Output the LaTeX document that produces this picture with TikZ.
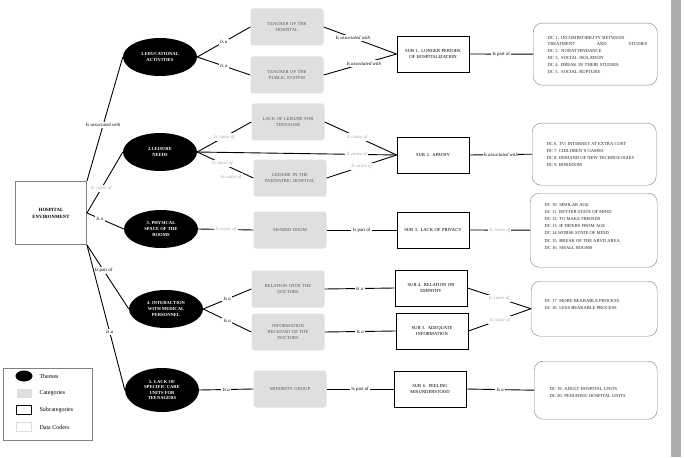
\documentclass[tikz,border=0pt]{standalone}
\usepackage{fontspec}
\setmainfont{Liberation Serif}
\usetikzlibrary{shapes.geometric}
\begin{document}
\begin{tikzpicture}[x=1pt,y=-1pt,
  every node/.style={font=\fontsize{4.6}{5.6}\selectfont},
  theme/.style={ellipse,fill=black,text=white,font=\fontsize{4.6}{5.6}\selectfont\bfseries,align=center,minimum width=74pt,minimum height=38pt,inner sep=0pt},
  cat/.style={rounded corners=3pt,fill=gray!25,text=gray!70!black,align=center,minimum width=73pt,minimum height=37pt,text width=62pt,inner sep=0pt},
  sub/.style={draw=black,line width=0.9pt,align=center,minimum width=72pt,minimum height=36pt,text width=70pt,inner sep=0pt},
  dc/.style={draw=gray,rounded corners=9pt,align=left,text width=112pt,inner sep=6pt,anchor=north west},
  edge/.style={line width=0.9pt},
  lb/.style={fill=white,inner sep=1.5pt,font=\fontsize{4.8}{5.8}\selectfont\itshape},
  lg/.style={lb,text=gray!70},
  lu/.style={fill=white,inner sep=1.5pt,font=\fontsize{4.8}{5.8}\selectfont}]
\useasboundingbox (0,0) rectangle (684,457);
\fill[gray!65] (671,0) rectangle (681,457);
% main
\node[draw=gray,line width=0.9pt,minimum width=71pt,minimum height=63pt,align=center,font=\fontsize{4.8}{7}\selectfont\bfseries] (he) at (51,213) {HOSPITAL\\ENVIRONMENT};
% themes
\node[theme] (t1) at (160,57) {1.EDUCATIONAL\\ACTIVITIES};
\node[theme] (t2) at (160,152) {2.LEISURE\\NEEDS};
\node[theme] (t3) at (161,229) {3. PHYSICAL\\SPACE OF THE\\ROOMS};
\node[theme] (t4) at (166,309) {4. INTERACTION\\WITH MEDICAL\\PERSONNEL};
\node[theme,minimum height=44pt] (t5) at (162,390) {5. LACK OF\\SPECIFIC CARE\\UNITS FOR\\TEENAGERS};
% categories
\node[cat] (c1) at (287,27) {TEACHER OF THE\\HOSPITAL};
\node[cat] (c2) at (287,75) {TEACHER OF THE\\PUBLIC SYSTEM};
\node[cat] (c3) at (288,122) {LACK OF LEISURE FOR\\TEENAGER};
\node[cat] (c4) at (290,178) {LEISURE IN THE\\PAEDIATRIC HOSPITAL};
\node[cat] (c5) at (290,230) {SHARED ROOM};
\node[cat] (c6) at (288,289) {RELATION WITH THE\\DOCTORS};
\node[cat] (c7) at (288,332) {INFORMATION\\RECEIVED OF THE\\DOCTORS};
\node[cat] (c8) at (290,389) {MINORITY GROUP};
% subcategories
\node[sub] (s1) at (433,54) {SUB 1. LONGER PERIODS\\OF HOSPITALIZATION};
\node[sub] (s2) at (433,155) {SUB 2. APATHY};
\node[sub] (s3) at (433,230) {SUB 3. LACK OF PRIVACY};
\node[sub] (s4) at (431,288) {SUB 4. RELATION OR\\EMPATHY};
\node[sub] (s5) at (432,331) {SUB 5. ADEQUATE\\INFORMATION};
\node[sub] (s6) at (430,389) {SUB 6. FEELING\\MISUNDERSTOOD};
% data coders
\node[dc,minimum height=62pt,text width=112pt] (d1) at (533,23) {};
\node[anchor=north west,align=left,text width=100pt,text=gray!30!black] at (544,33) {DC 1. INCOMPATIBILITY BETWEEN\\TREATMENT\hfill AND\hfill STUDIES\\[1.5pt]DC 2. NONATTENDANCE\\[1.5pt]DC 3. SOCIAL ISOLATION\\[1.5pt]DC 4. BREAK IN THEIR STUDIES\\[1.5pt]DC 5. SOCIAL RUPTURE};
\node[dc,minimum height=62pt] (d2) at (532,123) {};
\node[anchor=north west,align=left,text=gray!30!black] at (543,139) {DC 6. TV/ INTERNET AT EXTRA COST\\[1.5pt]DC 7. CHILDREN'S GAMES\\[1.5pt]DC 8. DEMAND OF NEW TECHNOLOGIES\\[1.5pt]DC 9. BOREDOM};
\node[dc,minimum height=74pt,text width=115pt] (d3) at (530,193) {};
\node[anchor=north west,align=left,text=gray!30!black] at (541,200) {DC 10. SIMILAR AGE\\[1.5pt]DC 11. BETTER STATE OF MIND\\[1.5pt]DC 12. TO MAKE FRIENDS\\[1.5pt]DC 13. IF DIFERS FROM AGE\\[1.5pt]DC 14.WORSE STATE OF MIND\\[1.5pt]DC 15. BREAK OF THE ABVD AREA\\[1.5pt]DC 16. SMALL ROOMS};
\node[dc,minimum height=55pt,text width=114pt] (d4) at (531,281) {};
\node[anchor=north west,align=left,text=gray!30!black] at (541,296) {DC 17. MORE BEARABLE PROCESS\\[1.5pt]DC 18. LESS BEARABLE PROCESS};
\node[dc,minimum height=58pt,text width=111pt] (d5) at (534,361) {};
\node[anchor=north west,align=left,text=gray!30!black] at (546,384) {DC 19. ADULT HOSPITAL UNITS\\[1.5pt]DC 20. PEDIATRIC HOSPITAL UNITS};
% edges: main
\draw[edge] (he.north east) -- node[lb,pos=0.45] {Is associated with} (t1.west);
\draw[edge] (he.east) -- node[lg,pos=0.4] {Is cause of} (t2.west);
\draw[edge] (he.east) -- node[lb,pos=0.35] {Is a} (t3.west);
\draw[edge] (he.south east) -- node[lu,pos=0.4] {Is part of} (t4.west);
\draw[edge] (he.south east) -- node[lb,pos=0.6] {Is a} (t5.west);
% theme 1
\draw[edge] (t1.east) -- node[lb] {Is a} (c1.west);
\draw[edge] (t1.east) -- node[lb] {Is a} (c2.west);
\draw[edge] (c1.east) -- node[lb,pos=0.4] {Is associated with} (s1.west);
\draw[edge] (c2.east) -- node[lb,pos=0.55] {Is associated with} (s1.west);
\draw[edge] (s1.east) -- node[lu] {Is part of} (d1.west);
% theme 2
\draw[edge] (t2.east) -- node[lg] {Is cause of} (c3.west);
\draw[edge] (t2.east) -- node[lg,pos=0.8] {Is cause of} (s2.west);
\draw[edge] (t2.east) -- node[lg,pos=0.45] {Is cause of} (c4.west);
\node[lg] (l2b) at (231,177) {Is cause of};
\draw[edge] (c3.east) -- node[lg,pos=0.45] {Is cause of} (s2.west);
\draw[edge] (c4.east) -- node[lg,pos=0.5] {Is cause of} (s2.west);
\draw[edge] (s2.east) -- node[lb,inner sep=0.3pt] {Is associated with} (d2.west);
% theme 3
\draw[edge] (t3.east) -- node[lg] {Is cause of} (c5.west);
\draw[edge] (c5.east) -- node[lu] {Is part of} (s3.west);
\draw[edge] (s3.east) -- node[lg] {Is cause of} (d3.west);
% theme 4
\draw[edge] (t4.east) -- node[lb] {Is a} (c6.west);
\draw[edge] (t4.east) -- node[lb] {Is a} (c7.west);
\draw[edge] (c6.east) -- node[lb] {Is a} (s4.west);
\draw[edge] (c7.east) -- node[lb] {Is a} (s5.west);
\draw[edge] (s4.east) -- node[lg] {Is cause of} (d4.west);
\draw[edge] (s5.east) -- node[lg] {Is cause of} (d4.west);
% theme 5
\draw[edge] (t5.east) -- node[lb] {Is a} (c8.west);
\draw[edge] (c8.east) -- node[lu] {Is part of} (s6.west);
\draw[edge] (s6.east) -- node[lb] {Is a} (d5.west);
% legend
\node[draw=gray,minimum width=89pt,minimum height=72pt,anchor=north west] (leg) at (3,368) {};
\node[ellipse,fill=black,minimum width=17pt,minimum height=11pt,inner sep=0pt] (k1) at (24,376) {};
\node[fill=gray!25,minimum width=15pt,minimum height=9pt,inner sep=0pt] (k2) at (24,393) {};
\node[draw=black,line width=0.9pt,minimum width=15pt,minimum height=9pt,inner sep=0pt] (k3) at (24,410) {};
\node[draw=gray!25,minimum width=15pt,minimum height=9pt,inner sep=0pt] (k4) at (24,427) {};
\node[anchor=west,font=\fontsize{6}{7}\selectfont] at (36,376) {Themes};
\node[anchor=west,font=\fontsize{6}{7}\selectfont] at (36,393) {Categories};
\node[anchor=west,font=\fontsize{6}{7}\selectfont] at (36,410) {Subcategories};
\node[anchor=west,font=\fontsize{6}{7}\selectfont] at (36,427) {Data Coders};
\end{tikzpicture}
\end{document}
